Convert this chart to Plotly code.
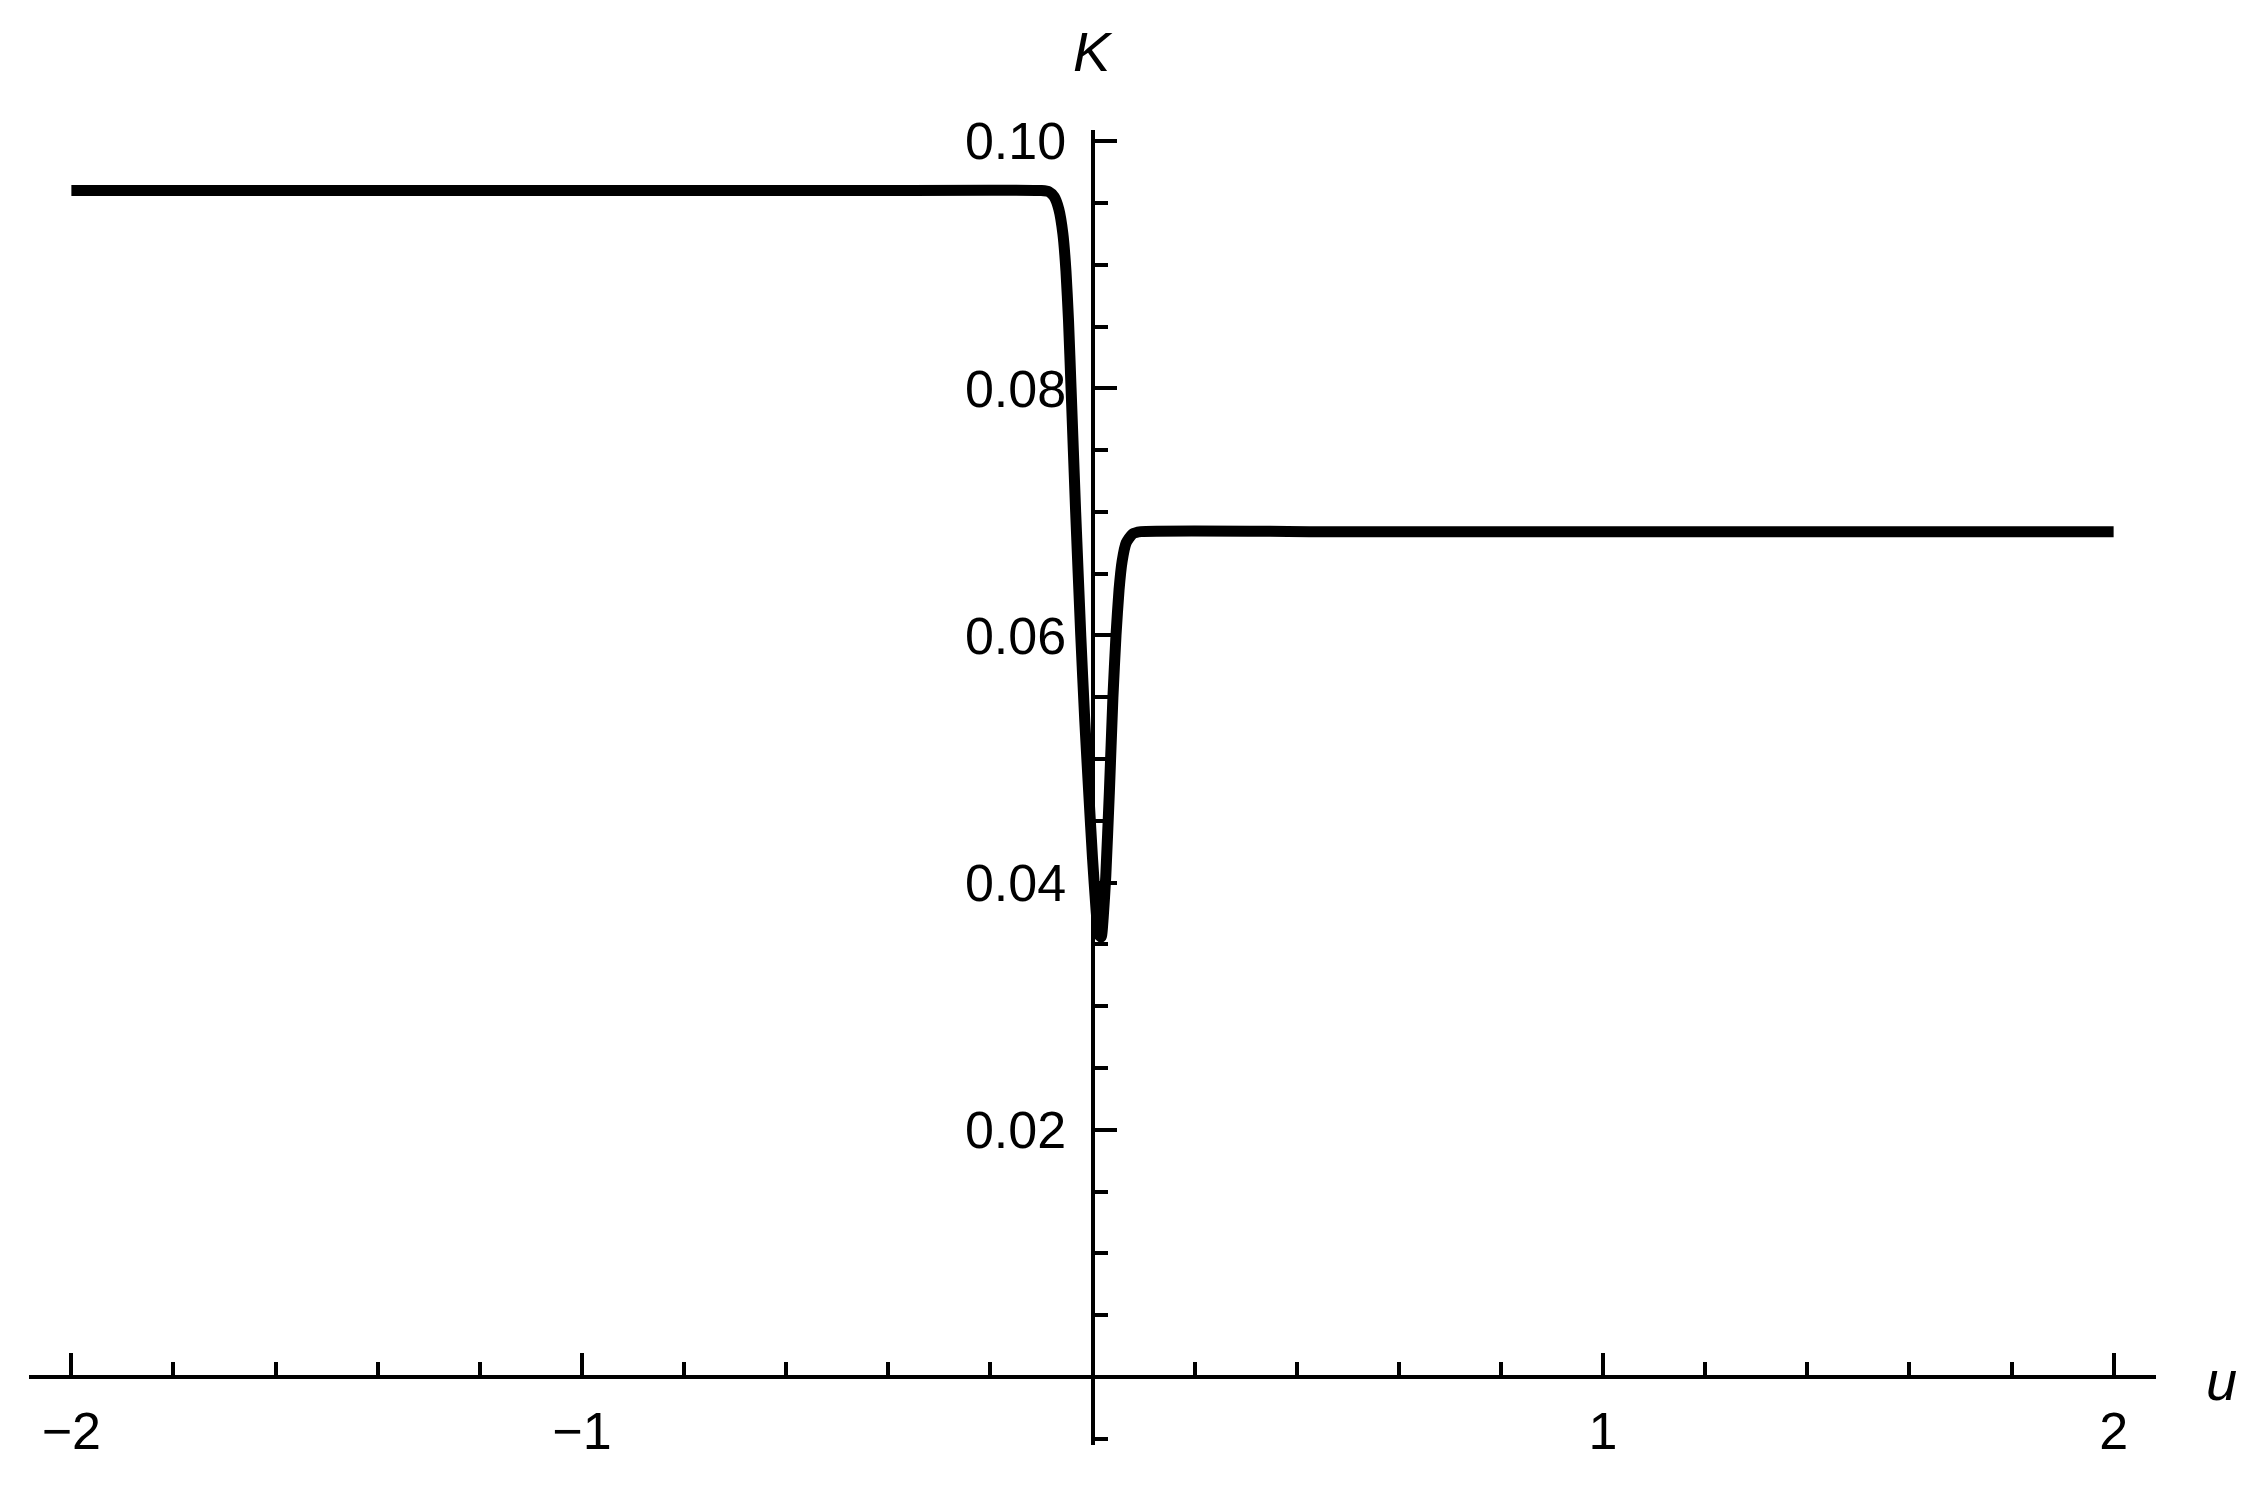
import plotly.graph_objects as go

# K(u)
u = [-2.0, -0.5, -0.10, -0.085, -0.075, -0.066, -0.058, -0.052, -0.047,
     -0.042, -0.033, -0.023, -0.015, -0.007, 0.0, 0.007, 0.012, 0.017,
     0.021, 0.026, 0.033, 0.040, 0.046, 0.052, 0.058, 0.066, 0.078, 0.095,
     0.5, 2.0]
K = [0.0960, 0.0960, 0.0960, 0.0959, 0.0955, 0.0945, 0.0925, 0.0895, 0.0855,
     0.0800, 0.0700, 0.0600, 0.0530, 0.0470, 0.0420, 0.0378, 0.0358, 0.0356,
     0.0372, 0.0405, 0.0473, 0.0550, 0.0600, 0.0637, 0.0660, 0.0675, 0.0682, 0.0684,
     0.0684, 0.0684]

x_range = [-2.083, 2.083]
y_range = [-0.0055, 0.1009]

fig = go.Figure()
fig.add_trace(go.Scatter(x=u, y=K, mode="lines",
    line=dict(color="black", width=11, shape="spline", smoothing=0.5)))

# axes cross at the origin, like Mathematica
x_pos = (0 - y_range[0]) / (y_range[1] - y_range[0])
y_pos = (0 - x_range[0]) / (x_range[1] - x_range[0])

fig.update_xaxes(range=x_range, showgrid=False, zeroline=False,
    showline=True, linecolor="black", linewidth=4,
    anchor="free", position=x_pos,
    tickmode="linear", tick0=0, dtick=1,
    ticks="inside", ticklen=22, tickwidth=4, tickcolor="black",
    minor=dict(tickmode="linear", tick0=0, dtick=0.2, ticks="inside",
               ticklen=13, tickwidth=4, tickcolor="black", showgrid=False),
    labelalias={"0": ""}, ticklabelstandoff=8)

fig.update_yaxes(range=y_range, showgrid=False, zeroline=False,
    showline=True, linecolor="black", linewidth=4,
    anchor="free", position=y_pos,
    tickmode="linear", tick0=0, dtick=0.02, tickformat=".2f",
    ticks="inside", ticklen=22, tickwidth=4, tickcolor="black",
    minor=dict(tickmode="linear", tick0=0, dtick=0.005, ticks="inside",
               ticklen=13, tickwidth=4, tickcolor="black", showgrid=False),
    labelalias={"0.00": ""}, ticklabelstandoff=14)

# axis labels
fig.add_annotation(text="K", xref="x", yref="paper", x=0, y=1.06,
    showarrow=False, font=dict(size=56, family="Liberation Sans"),
    xanchor="center", yanchor="middle")
fig.add_annotation(text="u", xref="paper", yref="paper", x=1.031, y=0.049,
    showarrow=False, font=dict(size=56, family="Liberation Sans"),
    xanchor="center", yanchor="middle")
fig.update_annotations(font_style="italic")

fig.update_layout(width=2266, height=1488,
    margin=dict(l=29, r=110, t=130, b=43),
    plot_bgcolor="white", paper_bgcolor="white", showlegend=False,
    font=dict(family="Liberation Sans, Arial", size=52, color="black"))

fig.write_html("out.html", config={"displayModeBar": False},
    post_script="document.body.style.margin='0';")
